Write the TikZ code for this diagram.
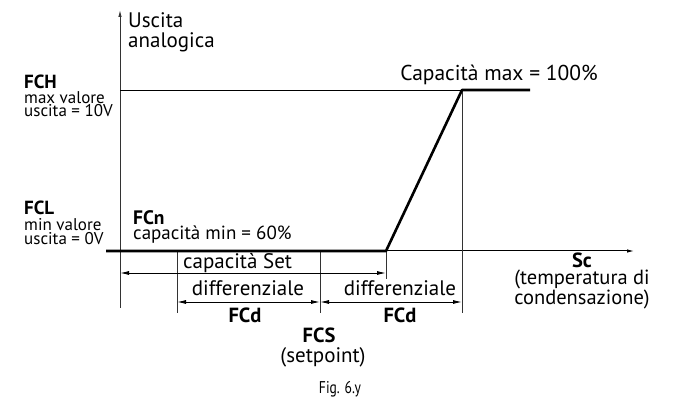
\documentclass[tikz,border=0pt]{standalone}
\usepackage{fontspec}
\setmainfont{PT Sans}
\newfontfamily\figfont[FakeStretch=0.8]{PT Sans}
\usetikzlibrary{positioning, arrows.meta}

\begin{document}
\begin{tikzpicture}[x=1pt, y=-1pt,
    every node/.style={inner sep=0pt, font=\fontsize{21}{20}\selectfont},
    lbl/.style={anchor=base},
    bold/.style={font=\fontsize{20.5}{20}\selectfont\bfseries},
    small/.style={font=\fontsize{17}{13.5}\selectfont, align=left},
    axis/.style={-{Latex[length=7pt, width=3.5pt]}, line width=1pt},
    guide/.style={line width=0.9pt, black!80},
    dim/.style={{Latex[length=9pt, width=4pt]}-{Latex[length=9pt, width=4pt]}, line width=0.9pt},
    curve/.style={line width=2.6pt, line join=round}
]
\useasboundingbox (0,0) rectangle (673,401);

% === key points ===
\coordinate (yTop) at (120,10);
\coordinate (yBot) at (120,308);
\coordinate (xStart) at (106,251);
\coordinate (xEnd) at (634,251);
\coordinate (hLeft) at (120,90);
\coordinate (pMax) at (462,90);
\coordinate (hEnd) at (530,90);
\coordinate (pMin) at (386,251);

% === axes ===
\draw[axis, line width=0.9pt, black!80] (yBot) -- (yTop);
\draw[axis] (xStart) -- (xEnd);

% FCH level and guide lines
\draw[line width=0.9pt] (hLeft) -- (pMax);
\draw[guide] (pMax) -- (462,313) coordinate (gMax);
\draw[guide] (pMin) -- (386,279) coordinate (gMin);
\draw[guide] (177,251) coordinate (gLeft) -- (177,313);
\draw[guide] (320,251) coordinate (gSet) -- (320,313);

% control curve
\draw[curve] (xStart) -- (pMin) -- (pMax) -- (hEnd);

% === dimension arrows ===
\coordinate (capL) at (120,273);
\coordinate (capR) at (386,273);
\draw[dim] (capL) -- (capR);
\coordinate (d1L) at (177,302);
\coordinate (d1R) at (320,302);
\coordinate (d2R) at (462,302);
\draw[dim] (d1L) -- (d1R);
\draw[dim] (d1R) -- (d2R);

% === labels ===
\node[anchor=base west, align=left] (uscita) at (128,48) {Uscita\\analogica};

\node[bold, anchor=base west, font=\fontsize{19}{20}\selectfont\bfseries] (fch) at (24,89) {FCH};
\node[small, anchor=base west] (fchTxt) at (24,117) {max valore\\uscita = 10V};

\node[lbl, font=\fontsize{21.5}{20}\selectfont] (capmax) at (499,81) {Capacità max = 100\%};

\node[bold, anchor=base west, font=\fontsize{19}{20}\selectfont\bfseries] (fcl) at (24,215) {FCL};
\node[small, anchor=base west] (fclTxt) at (24,244) {min valore\\uscita = 0V};

\node[bold, anchor=base west, font=\fontsize{19.5}{20}\selectfont\bfseries] (fcn) at (133,225) {FCn};
\node[anchor=base west, font=\fontsize{19}{20}\selectfont] (capmin) at (133,240) {capacità min = 60\%};

\node[anchor=base west] (capset) at (183,269) {capacità Set};
\node[lbl] (diff1) at (248,295) {differenziale};
\node[lbl] (diff2) at (400,295) {differenziale};
\node[bold, lbl] (fcd1) at (245,323) {FCd};
\node[bold, lbl] (fcd2) at (400,323) {FCd};

\node[bold, lbl] (fcs) at (319,342) {FCS};
\node[lbl] (setp) at (323,362) {(setpoint)};

\node[bold, lbl] (sc) at (582,268) {Sc};
\node[lbl, align=center, font=\fontsize{20.5}{18}\selectfont] (temp) at (582,305) {(temperatura di\\condensazione)};

\node[lbl, font=\fontsize{17}{18}\selectfont\figfont] (fig) at (340,393) {Fig. 6.y};
\end{tikzpicture}
\end{document}
